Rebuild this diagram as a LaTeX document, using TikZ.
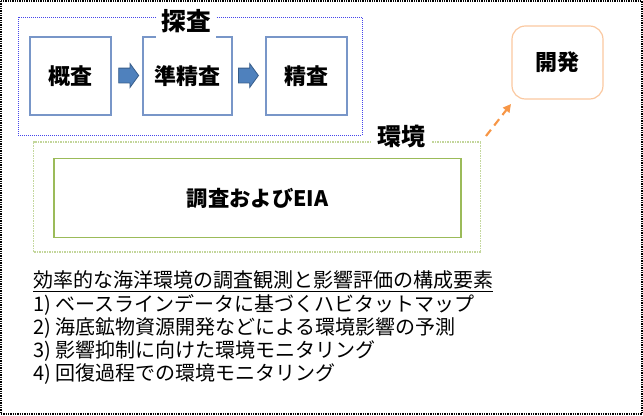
\documentclass[tikz,border=0pt]{standalone}
\usepackage{fontspec}
\setmainfont{Noto Sans CJK JP}
\usetikzlibrary{shapes.arrows,arrows.meta}
\definecolor{boxblue}{RGB}{120,150,200}
\definecolor{dotblue}{RGB}{70,70,235}
\definecolor{arrowfill}{RGB}{79,129,189}
\definecolor{arrowline}{RGB}{56,93,138}
\definecolor{lightgreen}{RGB}{195,214,155}
\definecolor{midgreen}{RGB}{155,187,89}
\definecolor{lightorange}{RGB}{250,200,160}
\definecolor{strongorange}{RGB}{247,150,70}
\begin{document}
\begin{tikzpicture}[x=0.75pt,y=-0.75pt,
  frame/.style={draw=black,line width=0.9pt,dash pattern=on 1pt off 0.75pt},
  bluegroup/.style={draw=dotblue,line width=0.75pt,dash pattern=on 0.75pt off 0.75pt,minimum width=258pt,minimum height=88.5pt,inner sep=0pt},
  greengroup/.style={draw=lightgreen,line width=0.9pt,dash pattern=on 0.75pt off 0.5pt,minimum width=335.25pt,minimum height=82.5pt,inner sep=0pt},
  stepbox/.style={draw=boxblue,line width=0.9pt,minimum height=58.5pt,inner sep=0pt,font=\fontsize{16.5pt}{20pt}\selectfont\bfseries},
  grouplabel/.style={fill=white,inner sep=0pt,font=\fontsize{18.5pt}{22pt}\selectfont\bfseries},
  blockarrow/.style={single arrow,draw=arrowline,fill=arrowfill,line width=0.6pt,inner xsep=0pt,inner ysep=5.25pt,
     minimum height=15pt,single arrow head extend=3.4pt,single arrow tip angle=108,anchor=tail},
  devbox/.style={draw=lightorange,line width=0.9pt,rounded corners=10pt,minimum width=68.25pt,minimum height=54.75pt,inner sep=0pt,font=\fontsize{16.5pt}{20pt}\selectfont\bfseries},
  envbox/.style={draw=midgreen,line width=1pt,minimum width=305.25pt,minimum height=59.25pt,inner sep=0pt,font=\fontsize{16pt}{20pt}\selectfont\bfseries},
  devarrow/.style={draw=strongorange,line width=1.6pt,dash pattern=on 6pt off 4pt,-{Triangle[length=6pt,width=6pt]}},
  bodytext/.style={anchor=base west,inner sep=0pt,font=\fontsize{15pt}{18pt}\selectfont}
]
\useasboundingbox (0,0) rectangle (643,415);
\draw[frame] (1,1) rectangle (642,414);

% exploration group
\node[bluegroup] (explore) at (190,76) {};
\node[stepbox,minimum width=60.75pt] (gaisa) at (70.5,76) {概査};
\node[stepbox,minimum width=66.75pt] (junseisa) at (187.5,76) {準精査};
\node[stepbox,minimum width=60.75pt] (seisa) at (306.5,76) {精査};
\node[blockarrow] (a1) at (118.3,75.5) {};
\node[blockarrow] (a2) at (238,75.5) {};
\node[grouplabel,minimum width=45pt,minimum height=27pt] (tansa) at (186,21) {探査};

% development
\node[devbox] (kaihatsu) at (557.5,62.5) {開発};

% environment group
\node[greengroup] (envgroup) at (257,197) {};
\node[envbox] (eia) at (257.5,198) {調査およびEIA};
\node[grouplabel,minimum width=45.75pt,minimum height=22.5pt,font=\fontsize{18pt}{22pt}\selectfont\bfseries] (kankyo) at (401.5,136) {環境};

\coordinate (devstart) at (486,136);
\draw[devarrow] (devstart) -- (511,104) coordinate (devend);

% text
\node[bodytext] (t1) at (33,287.6) {\underline{効率的な海洋環境の調査観測と影響評価の構成要素}};
\node[bodytext] (t2) at (33,311) {1) ベースラインデータに基づくハビタットマップ};
\node[bodytext] (t3) at (33,334.3) {2) 海底鉱物資源開発などによる環境影響の予測};
\node[bodytext] (t4) at (33,357.6) {3) 影響抑制に向けた環境モニタリング};
\node[bodytext] (t5) at (33,380.9) {4) 回復過程での環境モニタリング};
\end{tikzpicture}
\end{document}
